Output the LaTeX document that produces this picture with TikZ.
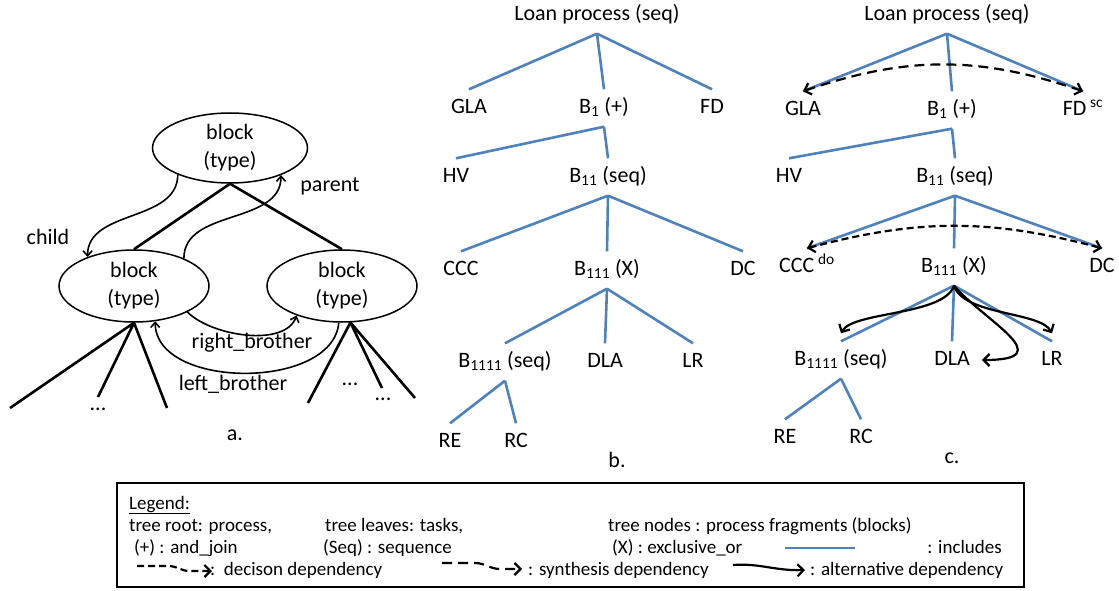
\documentclass[tikz,border=0pt]{standalone}
\usepackage{fontspec}
\setmainfont{Carlito}
\usetikzlibrary{shapes.geometric, arrows.meta}
\definecolor{incblue}{RGB}{79,129,189}

\begin{document}
\begin{tikzpicture}[x=1pt,y=-1pt,>={Straight Barb[length=6pt,width=12pt]},
  every node/.style={font=\fontsize{22}{28}\selectfont},
  blk/.style={draw,shape=ellipse,line width=1.5pt,minimum width=150pt,minimum height=72pt,align=center,inner sep=0pt},
  lbl/.style={inner xsep=0pt,inner ysep=8pt,text height=16pt,text depth=5pt},
  leg/.style={font=\fontsize{19}{22}\selectfont,anchor=base west,inner sep=0pt},
  tree/.style={line width=2.6pt},
  inc/.style={incblue,line width=2.6pt},
  rel/.style={line width=1.6pt,-{Straight Barb[length=5pt,width=9pt]}},
  alt/.style={line width=2.2pt,->},
  syn/.style={line width=2.2pt,dash pattern=on 10pt off 6pt},
  dec/.style={line width=2.2pt,dash pattern=on 7pt off 4pt}]
\useasboundingbox (0,0) rectangle (1119,591);

\node[blk,minimum width=155pt,minimum height=70pt] (top) at (230,148) {block\\(type)};
\node[blk] (lft) at (134,286) {block\\(type)};
\node[blk] (rgt) at (342,286) {block\\(type)};
\draw[tree] (top.south) -- (lft.north) (top.south) -- (rgt.north);
\path (10,408) coordinate (l1) (98,397) coordinate (l2) (167,408) coordinate (l3)
  (308,403) coordinate (r1) (382,388) coordinate (r2) (415,398) coordinate (r3);
\draw[tree] (lft.south) -- (l1) (lft.south) -- (l2) (lft.south) -- (l3);
\draw[tree] (rgt.283) -- (r1) (rgt.283) -- (r2) (rgt.283) -- (r3);
\node[anchor=base] (ldots) at (98,410) {...};
\node[anchor=base] (rdots1) at (350,385) {...};
\node[anchor=base] (rdots2) at (383,400) {...};
\draw[rel] (top.207) to[out=-90,in=90] (lft.148);
\draw[rel] (lft.29) to[out=90,in=-90] (top.332);
\draw[rel] (lft.334) to[out=-45,in=-110,looseness=0.8] (rgt.213);
\draw[rel] (rgt.265) to[out=-95,in=-90,looseness=0.95] (lft.301);
\node (labChild) at (48,237) {child};
\node (labParent) at (330,186) {parent};
\node (labRight) at (252,343) {right\_brother};
\node (labLeft) at (233,384) {left\_brother};
\node (capA) at (235,435) {a.};

\path (597,15) node[lbl] (bRoot) {Loan process (seq)}
  (469,108) node[lbl] (bGLA) {GLA} (604,108) node[lbl] (bB1) {B\textsubscript{1} (+)}
  (712,108) node[lbl] (bFD) {FD}
  (456,177) node[lbl] (bHV) {HV} (608,177) node[lbl] (bB11) {B\textsubscript{11} (seq)}
  (461,270) node[lbl] (bCCC) {CCC} (607,270) node[lbl] (bB111) {B\textsubscript{111} (X)}
  (743,270) node[lbl] (bDC) {DC}
  (505,362) node[lbl] (bB1111) {B\textsubscript{1111} (seq)} (605,362) node[lbl] (bDLA) {DLA}
  (693,362) node[lbl] (bLR) {LR}
  (450,442) node[lbl] (bRE) {RE} (516,442) node[lbl] (bRC) {RC}
  (617,460) node (capB) {b.};

\path (947,15) node[lbl] (cRoot) {Loan process (seq)}
  (803,110) node[lbl] (cGLA) {GLA} (952,110) node[lbl] (cB1) {B\textsubscript{1} (+)}
  (1083,110) node[lbl] (cFD) {FD\,\textsuperscript{sc}}
  (789,177) node[lbl] (cHV) {HV} (955,177) node[lbl] (cB11) {B\textsubscript{11} (seq)}
  (807,267) node[lbl] (cCCC) {CCC\,\textsuperscript{do}} (954,267) node[lbl] (cB111) {B\textsubscript{111} (X)}
  (1102,267) node[lbl] (cDC) {DC}
  (841,360) node[lbl] (cB1111) {B\textsubscript{1111} (seq)} (952,360) node[lbl] (cDLA) {DLA}
  (1052,360) node[lbl] (cLR) {LR}
  (785,438) node[lbl] (cRE) {RE} (861,438) node[lbl] (cRC) {RC}
  (952,458) node (capC) {c.};

\foreach \t in {b,c}
  \foreach \pa/\ch in {Root/GLA,Root/B1,Root/FD,B1/HV,B1/B11,B11/CCC,B11/B111,B11/DC,
      B111/B1111,B111/DLA,B111/LR,B1111/RE,B1111/RC}
    \draw[inc] (\t\pa.south) -- (\t\ch.north);

\draw[syn,<->] (cGLA.north) to[bend left=19] (cFD.north);
\draw[dec,<->] (cCCC.north) to[bend left=15] (cDC.north);
\draw[alt] (cB111.south) .. controls +(-10,30) and +(12,-22) .. ([yshift=8pt]cB1111.north);
\draw[alt] (cB111.south) .. controls +(10,30) and +(-12,-22) .. ([yshift=8pt]cLR.north);
\draw[alt] (cB111.south) .. controls +(30,35) and +(80,0) .. ([xshift=12pt]cDLA.east);

\node[draw,line width=1.5pt,minimum width=907pt,minimum height=104pt,inner sep=0pt] (legend) at (570.5,535) {};
\node[leg] (legTitle) at (129,509) {\underline{Legend:}};
\node[leg] (legRoot) at (129,531) {tree root: process,};
\node[leg] (legLeaves) at (325,531) {tree leaves: tasks,};
\node[leg] (legNodes) at (608,531) {tree nodes : process fragments (blocks)};
\node[leg] (legAnd) at (134,553) {(+) : and\_join};
\node[leg] (legSeq) at (323,553) {(Seq) : sequence};
\node[leg] (legXor) at (612,553) {(X) : exclusive\_or};
\node[leg,anchor=base east] (legInc) at (1002,553) {: includes};
\node[leg] (legDec) at (210,575) {:~~decison dependency};
\node[leg] (legSyn) at (528,575) {: synthesis dependency};
\node[leg] (legAlt) at (810,575) {: alternative dependency};
\draw[inc] (785,548) -- (855,548);
\draw[dec,->] (137,566) -- (168,566) .. controls (178,566) and (180,571) .. (190,571) -- (212,571);
\draw[syn,->] (442,563) -- (475,563) .. controls (485,563) and (490,569) .. (500,569) -- (522,569);
\draw[alt] (733,565) .. controls (760,563) and (775,571) .. (805,570);
\end{tikzpicture}
\end{document}
